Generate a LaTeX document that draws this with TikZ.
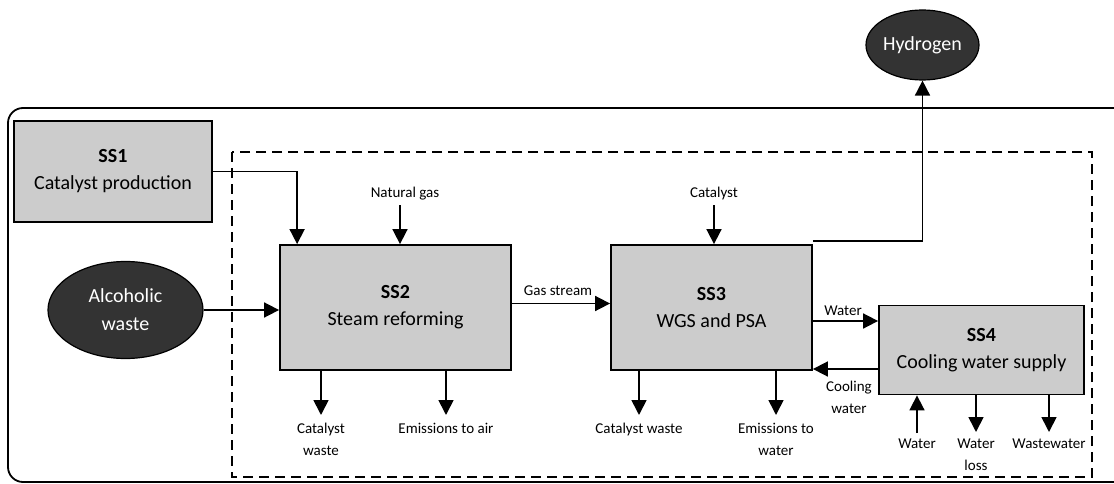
\documentclass[tikz,border=0pt]{standalone}
\usepackage{fontspec}
\setmainfont{Carlito}
\usetikzlibrary{arrows.meta,shapes.geometric}
\begin{document}
\begin{tikzpicture}[x=1pt,y=-1pt,
  box/.style={draw=black,line width=1.8pt,fill=boxgray,inner sep=0pt,align=center,
    font=\fontsize{20}{27}\selectfont},
  blob/.style={draw=black,line width=1.2pt,fill=blobdark,ellipse,inner sep=0pt,align=center,
    text=white,font=\fontsize{20}{28}\selectfont},
  lbl/.style={inner sep=0pt,align=center,font=\fontsize{15}{22}\selectfont},
  arr/.style={line width=1.7pt,-{Triangle[length=15pt,width=15pt]}},
]
\definecolor{boxgray}{HTML}{CCCCCC}
\definecolor{blobdark}{HTML}{333333}
\useasboundingbox (0,0) rectangle (1114,484);
% outer frame
\draw[line width=1.8pt,rounded corners=15pt] (8,108) rectangle (1130,482);
% dashed boundary
\draw[line width=1.5pt,dash pattern=on 10pt off 6pt] (232,152) rectangle (1092,477);
% boxes
\node[box,minimum width=198pt,minimum height=101pt] (ss1) at (113,171.5) {\textbf{SS1}\\Catalyst production};
\node[box,minimum width=231pt,minimum height=125pt] (ss2) at (395.5,307.5) {\textbf{SS2}\\Steam reforming};
\node[box,minimum width=201pt,minimum height=125pt] (ss3) at (711.5,307.5) {\textbf{SS3}\\WGS and PSA};
\node[box,minimum width=205pt,minimum height=89pt] (ss4) at (981.5,350) {\textbf{SS4}\\Cooling water supply};
\node[blob,minimum width=155pt,minimum height=97pt] (alc) at (125.5,310) {Alcoholic\\waste};
\node[blob,minimum width=113pt,minimum height=70pt] (hyd) at (922.5,45) {Hydrogen};
% labels
\node[lbl] (ng) at (405,194) {Natural gas};
\node[lbl] (cat) at (714,194) {Catalyst};
\node[lbl] (gs) at (558,291) {Gas stream};
\node[lbl] (wat) at (843,311) {Water};
\node[lbl,anchor=north] (cw) at (849,381) {Cooling\\water};
\node[lbl,anchor=north] (cw2) at (321,423) {Catalyst\\waste};
\node[lbl,anchor=north] (ea) at (446,423) {Emissions to air};
\node[lbl,anchor=north] (cw3) at (639,423) {Catalyst waste};
\node[lbl,anchor=north] (ew) at (776,423) {Emissions to\\water};
\node[lbl,anchor=north] (win) at (917,439) {Water};
\node[lbl,anchor=north] (wl) at (976,439) {Water\\loss};
\node[lbl,anchor=north] (ww) at (1049,439) {Wastewater};
% coordinates
\coordinate (ngs) at (400,205);
\coordinate (cats) at (714,205);
% connectors
\draw[arr] (ss1.east) -| ([xshift=18pt]ss2.north west);
\draw[arr] (ngs) -- (ngs |- ss2.north);
\draw[arr] (cats) -- (cats |- ss3.north);
\draw[arr] (alc.east) -- (alc.east -| ss2.west);
\draw[arr] ([yshift=4pt]ss2.east) -- ([yshift=4pt]ss3.west);
\draw[arr] ([yshift=3pt]ss3.north east) -| (hyd.south);
\draw[arr] (ss3.east |- 0,321) -- (ss4.west |- 0,321);
\draw[arr] (ss4.west |- 0,369) -- (ss3.east |- 0,369);
\draw[arr,shorten >=8pt] (cw2.north |- ss2.south) -- (cw2.north);
\draw[arr,shorten >=8pt] (ea.north |- ss2.south) -- (ea.north);
\draw[arr,shorten >=8pt] (cw3.north |- ss3.south) -- (cw3.north);
\draw[arr,shorten >=8pt] (ew.north |- ss3.south) -- (ew.north);
\draw[arr,shorten <=6pt] (win.north) -- (win.north |- ss4.south);
\draw[arr,shorten >=7pt] (wl.north |- ss4.south) -- (wl.north);
\draw[arr,shorten >=7pt] (ww.north |- ss4.south) -- (ww.north);
\end{tikzpicture}
\end{document}
